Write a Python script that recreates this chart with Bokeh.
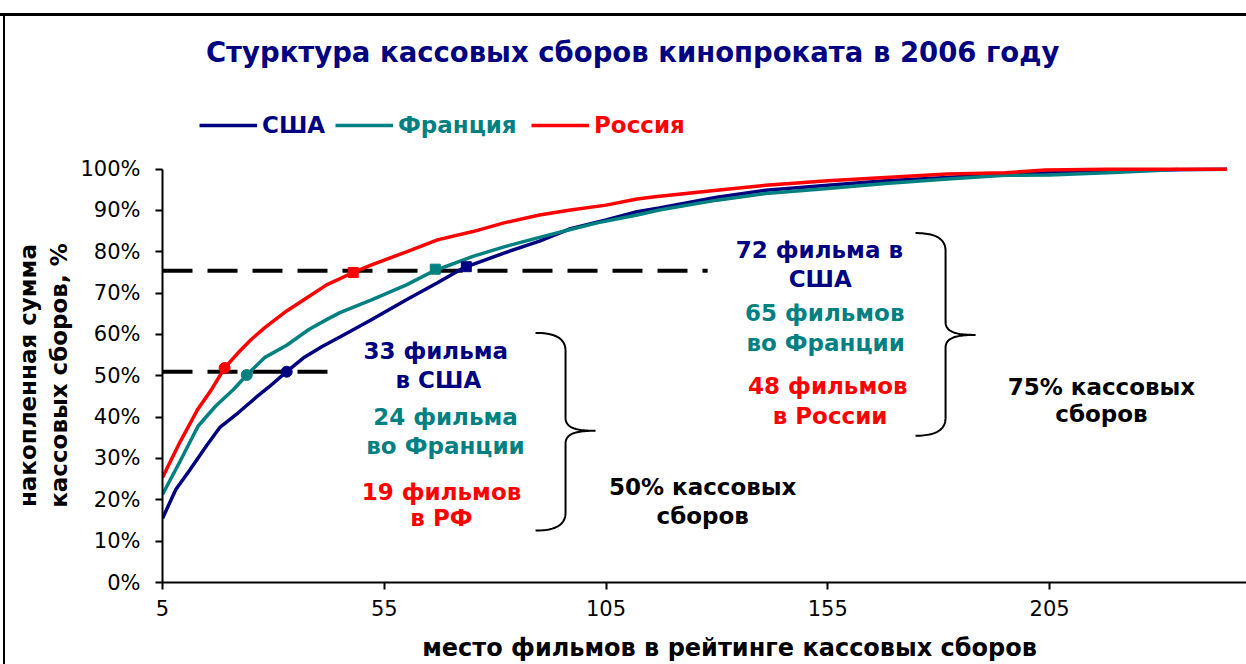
import numpy as np
from bokeh.plotting import figure
from bokeh.models import Range1d, FixedTicker, PrintfTickFormatter, Label, Legend, LegendItem
from bokeh.embed import file_html
from bokeh.resources import INLINE

# ---------------- data (rank of film, cumulative share of box office, %) ----------------
usa_x = [5, 8, 11, 15, 18, 22, 26, 29, 33, 37, 41, 45, 52, 60, 67, 73, 82, 90, 97, 105,
         112, 117, 130, 141, 155, 168, 182, 195, 210, 225, 245]
usa_y = [15.5, 22.5, 27.0, 33.2, 37.6, 41.0, 44.7, 47.3, 51.0, 54.5, 57.1, 59.4, 63.5, 68.4, 72.5, 76.2,
         79.7, 82.6, 85.6, 87.7, 89.7, 90.6, 93.2, 94.9, 96.1, 97.2, 98.0, 98.9, 99.5, 99.8, 100.0]

fra_x = [5, 9, 13, 17, 21, 24, 28, 33, 38, 42, 45, 52, 60, 66, 75, 82, 90, 97, 103, 112,
         117, 130, 141, 155, 168, 182, 195, 205, 218, 234]
fra_y = [21.3, 29.4, 37.8, 42.7, 46.7, 50.2, 54.4, 57.4, 61.2, 63.6, 65.3, 68.3, 72.0, 75.3, 78.9,
         81.2, 83.5, 85.4, 87.0, 88.9, 90.1, 92.5, 94.1, 95.3, 96.5, 97.6, 98.5, 98.6, 99.1, 99.9]

rus_x = [5, 9, 13, 16, 19, 22, 25, 28, 33, 38, 42, 48, 52, 60, 67, 75, 82, 90, 97, 105,
         112, 116, 130, 141, 155, 168, 182, 195, 204, 218, 245]
rus_y = [25.4, 34.1, 42.0, 46.6, 51.9, 55.5, 58.8, 61.6, 65.7, 69.2, 72.0, 75.0, 76.8, 80.0, 82.9,
         84.9, 87.0, 88.9, 90.1, 91.3, 92.8, 93.3, 94.9, 96.1, 97.2, 98.0, 98.8, 99.1, 99.8, 100.0, 100.0]

# films needed for 50% (circles) and 75% (squares) of box office
half_x = {"usa": 33, "fra": 24, "rus": 19}
half_y = {"usa": 51.0, "fra": 50.2, "rus": 51.9}
q3_x = {"usa": 73.5, "fra": 66.5, "rus": 48}
q3_y = {"usa": 76.4, "fra": 75.8, "rus": 75.0}

level_50 = 51.0
level_75 = 75.4
level_50_x = [5, 43.6]
level_75_x = [5, 127.9]

x_ticks = [5, 55, 105, 155, 205]
y_ticks = [0, 10, 20, 30, 40, 50, 60, 70, 80, 90, 100]

NAVY, TEAL, RED = "#000080", "#008080", "#FF0000"
FONT = "DejaVu Sans"
NB = "\u00a0"

# ---------------- figure ----------------
# frame spans the whole upper part of the canvas so title and legend live inside it;
# the y axis itself is bounded to 0..100 %
p = figure(width=1246, height=664, output_backend="svg", toolbar_location=None,
           x_range=Range1d(5, 249.4), y_range=Range1d(0, 140.8),
           min_border_left=162, min_border_right=0, min_border_top=0, min_border_bottom=81)
p.border_fill_color = None
p.background_fill_color = None
p.outline_line_color = None
p.xgrid.visible = False
p.ygrid.visible = False
p.styles = {"background": "linear-gradient(#000,#000) 0 13px / 100% 3px no-repeat, "
                          "linear-gradient(#000,#000) 3px 13px / 2px 100% no-repeat, #fff"}

for ax in (p.xaxis, p.yaxis):
    ax.axis_line_color = "black"
    ax.axis_line_width = 2
    ax.major_tick_line_color = "black"
    ax.major_tick_line_width = 2
    ax.major_tick_in = 0
    ax.major_tick_out = 7
    ax.minor_tick_line_color = None
    ax.major_label_text_font = FONT
    ax.major_label_text_font_size = "21px"
    ax.major_label_text_color = "black"
    ax.axis_label_text_font = FONT
    ax.axis_label_text_font_style = "bold"
    ax.axis_label_text_color = "black"

p.yaxis.bounds = (0, 100)
p.xaxis.ticker = FixedTicker(ticks=x_ticks)
p.yaxis.ticker = FixedTicker(ticks=y_ticks)
p.yaxis.formatter = PrintfTickFormatter(format="%d%%")
p.xaxis.major_label_standoff = 10
p.yaxis.major_label_standoff = 15

p.xaxis.axis_label = NB * 6 + "место фильмов в рейтинге кассовых сборов"
p.xaxis.axis_label_text_font_size = "24px"
p.xaxis.axis_label_standoff = 15
p.yaxis.axis_label = "накопленная сумма" + NB * 21 + "\nкассовых сборов, %" + NB * 21
p.yaxis.axis_label_text_font_size = "23px"
p.yaxis.axis_label_standoff = 5

# reference dashed levels
p.line(level_75_x, [level_75, level_75], line_color="black", line_width=4, line_dash="30 15")
p.line(level_50_x, [level_50, level_50], line_color="black", line_width=4, line_dash="30 15")

r_usa = p.line(usa_x, usa_y, line_color=NAVY, line_width=3.5)
r_fra = p.line(fra_x, fra_y, line_color=TEAL, line_width=3.5)
r_rus = p.line(rus_x, rus_y, line_color=RED, line_width=3.5)

for key, col in (("usa", NAVY), ("fra", TEAL), ("rus", RED)):
    p.scatter([half_x[key]], [half_y[key]], marker="circle", size=11, fill_color=col, line_color=col)
    p.scatter([q3_x[key]], [q3_y[key]], marker="square", size=10, fill_color=col, line_color=col)

# ---------------- legend (one per colour) ----------------
for r, lab, col, xloc in ((r_usa, "США", NAVY, 37), (r_fra, "Франция", TEAL, 173), (r_rus, "Россия", RED, 369)):
    lg = Legend(items=[LegendItem(label=lab, renderers=[r])], location=(xloc, 444),
                orientation="horizontal", label_text_color=col, label_text_font=FONT,
                label_text_font_style="bold", label_text_font_size="23px",
                glyph_width=58, glyph_height=24, label_height=24, label_standoff=5,
                padding=0, margin=0, border_line_color=None, background_fill_alpha=0)
    p.add_layout(lg)

# ---------------- texts ----------------
def lab(text, x, y, color="black", size="23px"):
    p.add_layout(Label(x=x, y=y, text=text, text_color=color, text_font=FONT, text_font_style="bold",
                       text_font_size=size, text_align="center", text_baseline="middle"))

lab("Стурктура кассовых сборов кинопроката в 2006 году", 111.0, 128.3, NAVY, "27.5px")

notes = [
    ("33 фильма", 66.6, 56.0, NAVY), ("в США", 67.2, 49.0, NAVY),
    ("24 фильма", 68.8, 40.1, TEAL), ("во Франции", 68.8, 33.1, TEAL),
    ("19 фильмов", 67.9, 22.0, RED), ("в РФ", 67.9, 15.5, RED),
    ("50% кассовых", 126.8, 23.2, "black"), ("сборов", 126.8, 16.2, "black"),
    ("72 фильма в", 153.1, 80.4, NAVY), ("США", 153.3, 73.4, NAVY),
    ("65 фильмов", 154.3, 65.2, TEAL), ("во Франции", 154.5, 58.0, TEAL),
    ("48 фильмов", 155.0, 47.6, RED), ("в России", 155.5, 40.3, RED),
    ("75% кассовых", 216.7, 47.3, "black"), ("сборов", 216.7, 40.8, "black"),
]
for t, x, y, c in notes:
    lab(t, x, y, c)

# ---------------- curly braces ----------------
PXU, PYU = 4.435, 4.14
def to_data(px, py):
    return 5 + (np.asarray(px) - 162) / PXU, (583 - np.asarray(py)) / PYU

def cubic(p0, p1, p2, p3, n=30):
    t = np.linspace(0, 1, n)[:, None]
    pts = ((1 - t) ** 3) * np.array(p0) + 3 * ((1 - t) ** 2) * t * np.array(p1) \
        + 3 * (1 - t) * t ** 2 * np.array(p2) + t ** 3 * np.array(p3)
    return pts

def brace(ex, mx, tx, top, tip, bot):
    h = 18
    segs = [
        cubic((ex, top), (ex + 22, top), (mx, top + 7), (mx, top + h)),
        np.array([(mx, top + h), (mx, tip - 13)]),
        cubic((mx, tip - 13), (mx, tip - 3), (mx + 10, tip), (tx, tip)),
        cubic((tx, tip), (mx + 10, tip), (mx, tip + 3), (mx, tip + 13)),
        np.array([(mx, tip + 13), (mx, bot - h)]),
        cubic((mx, bot - h), (mx, bot - 7), (ex + 22, bot), (ex, bot)),
    ]
    pts = np.vstack(segs)
    bx, by = to_data(pts[:, 0], pts[:, 1])
    p.line(bx, by, line_color="black", line_width=2)

brace(535, 565, 595, 333, 431, 531)
brace(915, 945, 975, 233, 335, 436)

open("out.html", "w").write(file_html(p, INLINE))
